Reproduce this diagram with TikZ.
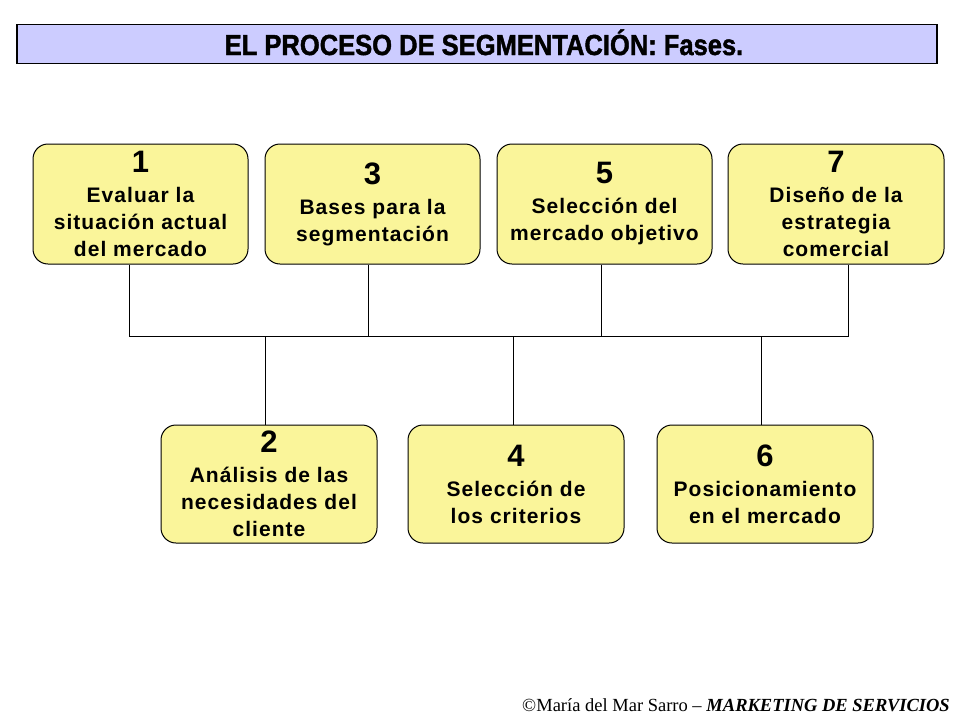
\documentclass[tikz,border=0pt]{standalone}
\usepackage{fontspec}
\setmainfont{Liberation Serif}
\newfontfamily\boxfont[LetterSpace=5]{Liberation Sans}
\newfontfamily\titlefont[FakeStretch=0.88,FakeBold=1.5]{Liberation Sans}
\definecolor{titlefill}{HTML}{CCCCFF}
\definecolor{boxfill}{HTML}{FAF59A}
\begin{document}
\begin{tikzpicture}[x=1pt,y=-1pt,
  phase/.style={draw=black, line width=1pt, fill=boxfill, rounded corners=15pt,
    minimum width=215pt, inner sep=0pt, align=center,
    font=\boxfont\bfseries\fontsize{21}{27}\selectfont},
  tophase/.style={phase, minimum height=120pt},
  botphase/.style={phase, minimum height=118pt},
  conn/.style={draw=black, line width=1pt}]
\useasboundingbox (0,0) rectangle (960,720);
\fill[white] (0,0) rectangle (960,720);
% title
\node[draw=black, line width=1.2pt, fill=titlefill, minimum width=920pt, minimum height=39pt,
  inner sep=0pt] (titlebox) at (477,44) {};
\node[anchor=base, font=\titlefont\bfseries\fontsize{29}{29}\selectfont] (title) at (484,55)
  {EL PROCESO DE SEGMENTACIÓN: Fases.};
\newcommand{\numl}[1]{{\fontsize{31}{31}\selectfont #1}}
% top boxes
\node[tophase] (b1) at (140.5,204) {\numl{1}\\[3pt]Evaluar la\\situación actual\\del mercado};
\node[tophase] (b3) at (372.5,204) {\numl{3}\\[3pt]Bases para la\\segmentación};
\node[tophase] (b5) at (604.5,204) {\numl{5}\\[3pt]Selección del\\mercado objetivo};
\node[tophase, minimum width=216pt] (b7) at (836,204) {\numl{7}\\[3pt]Diseño de la\\estrategia\\comercial};
% bottom boxes
\node[botphase, minimum width=216pt] (b2) at (269,484) {\numl{2}\\[3pt]Análisis de las\\necesidades del\\cliente};
\node[botphase, minimum width=216pt] (b4) at (516,484) {\numl{4}\\[3pt]Selección de\\los criterios};
\node[botphase, minimum width=216pt] (b6) at (765,484) {\numl{6}\\[3pt]Posicionamiento\\en el mercado};
% bus
\coordinate (busL) at (129,336);
\coordinate (busR) at (848,336);
\draw[conn] ([xshift=-11.5]b1.south) |- (busR) -- ([xshift=12]b7.south);
\draw[conn] ([xshift=-4.5]b3.south) -- ([xshift=-4.5]b3.south |- busL);
\draw[conn] ([xshift=-3.5]b5.south) -- ([xshift=-3.5]b5.south |- busL);
\draw[conn] ([xshift=-4]b2.north) -- ([xshift=-4]b2.north |- busL);
\draw[conn] ([xshift=-3]b4.north) -- ([xshift=-3]b4.north |- busL);
\draw[conn] ([xshift=-4]b6.north) -- ([xshift=-4]b6.north |- busL);
% footer
\node[anchor=base east, inner sep=0pt, font=\fontsize{18.5}{18.5}\selectfont] (footer) at (950,711)
  {©María del Mar Sarro – \textbf{\textit{MARKETING DE SERVICIOS}}};
\end{tikzpicture}
\end{document}
